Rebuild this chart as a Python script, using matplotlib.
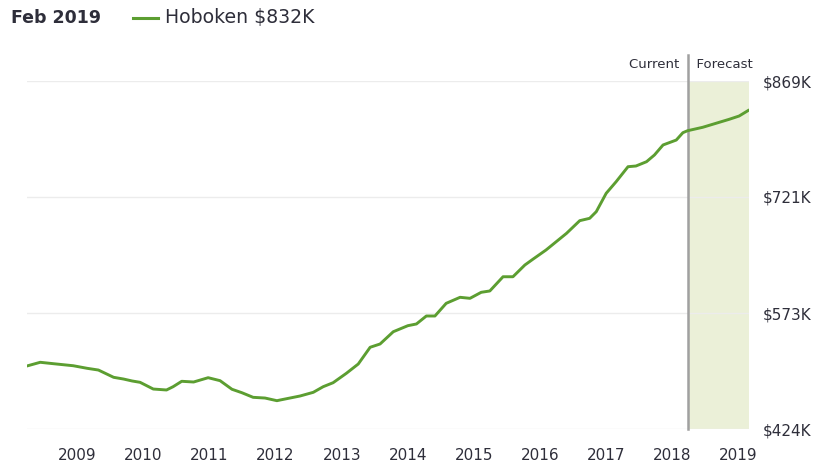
import numpy as np
import matplotlib.pyplot as plt
from matplotlib.lines import Line2D

plt.rcParams['font.family'] = ['DejaVu Sans']

# data: decimal year and value in $K
dates = [2008.24, 2008.44, 2008.64, 2008.94, 2009.15, 2009.32, 2009.55, 2009.70, 2009.83, 2009.95,
         2010.15, 2010.35, 2010.45, 2010.58, 2010.76, 2010.98, 2011.16, 2011.34, 2011.49, 2011.66,
         2011.84, 2012.02, 2012.07, 2012.37, 2012.57, 2012.72, 2012.87, 2013.07, 2013.25, 2013.43,
         2013.58, 2013.78, 2014.00, 2014.13, 2014.28, 2014.41, 2014.58, 2014.79, 2014.94, 2015.11,
         2015.24, 2015.44, 2015.59, 2015.77, 2015.89, 2016.09, 2016.40, 2016.60, 2016.75, 2016.85,
         2017.00, 2017.15, 2017.33, 2017.45, 2017.61, 2017.73, 2017.86, 2018.06, 2018.16, 2018.23,
         2018.46, 2018.66, 2018.86, 2019.01, 2019.16]
values = [504.6, 509.3, 507.5, 504.9, 501.6, 499.4, 490.1, 487.9, 485.4, 483.7,
          475.1, 473.9, 478.1, 485.0, 484.1, 489.6, 485.8, 474.8, 470.4, 464.5,
          463.6, 460.2, 461.1, 466.2, 470.9, 478.1, 483.2, 495.2, 507.1, 528.5,
          532.7, 548.4, 556.1, 558.3, 568.5, 568.5, 584.7, 592.4, 591.1, 598.8,
          600.5, 618.7, 618.7, 633.7, 641.0, 652.9, 674.2, 690.4, 693.4, 701.9,
          725.4, 740.2, 759.4, 760.3, 765.8, 774.4, 787.2, 793.5, 802.9, 805.4,
          809.8, 814.9, 820.0, 824.2, 831.9]
current = 2018.23
years = list(range(2009, 2020))
yticks = [424, 572.33, 720.67, 869]
ylabels = ['$424K', '$573K', '$721K', '$869K']

green = '#5c9e31'
txt = '#2e2e3a'

fig = plt.figure(figsize=(8.15, 4.63), dpi=100)
ax = fig.add_axes([27/815, 1-429/463, 722/815, 348/463])

ax.axvspan(current, dates[-1], color='#ebf0d8', zorder=0, lw=0)
for y in yticks:
    ax.axhline(y, color='#ececec', lw=1, zorder=1)
ax.plot(dates, values, color=green, lw=2.1, zorder=3, solid_capstyle='round',
        solid_joinstyle='round')
ax.axvline(current, ymin=0, ymax=1+26/348, color='#a0a0a0', lw=1.8, clip_on=False, zorder=2)

ax.set_xlim(dates[0], dates[-1])
ax.set_ylim(yticks[0], yticks[-1])
ax.set_xticks(years)
ax.set_xticklabels([str(y) for y in years], fontsize=11, color=txt)
ax.yaxis.tick_right()
ax.set_yticks(yticks)
ax.set_yticklabels(ylabels, fontsize=11, color=txt)
ax.tick_params(axis='both', length=0)
ax.tick_params(axis='x', pad=14)
ax.tick_params(axis='y', pad=10)
for s in ax.spines.values():
    s.set_visible(False)

ax.text(current, 1+17/348, 'Current  ', transform=ax.get_xaxis_transform(),
        ha='right', va='center', fontsize=9.5, color=txt)
ax.text(current, 1+17/348, '  Forecast', transform=ax.get_xaxis_transform(),
        ha='left', va='center', fontsize=9.5, color=txt)

fig.text(11/815, 1-18/463, 'Feb 2019', fontsize=12.5, fontweight='bold', color=txt,
         ha='left', va='center')
fig.add_artist(Line2D([133/815, 158/815], [1-18/463, 1-18/463], color=green, lw=2.2,
                      transform=fig.transFigure))
fig.text(165/815, 1-18/463, 'Hoboken $832K', fontsize=13.6, color=txt, ha='left', va='center')

fig.savefig('out.png', dpi=100)
